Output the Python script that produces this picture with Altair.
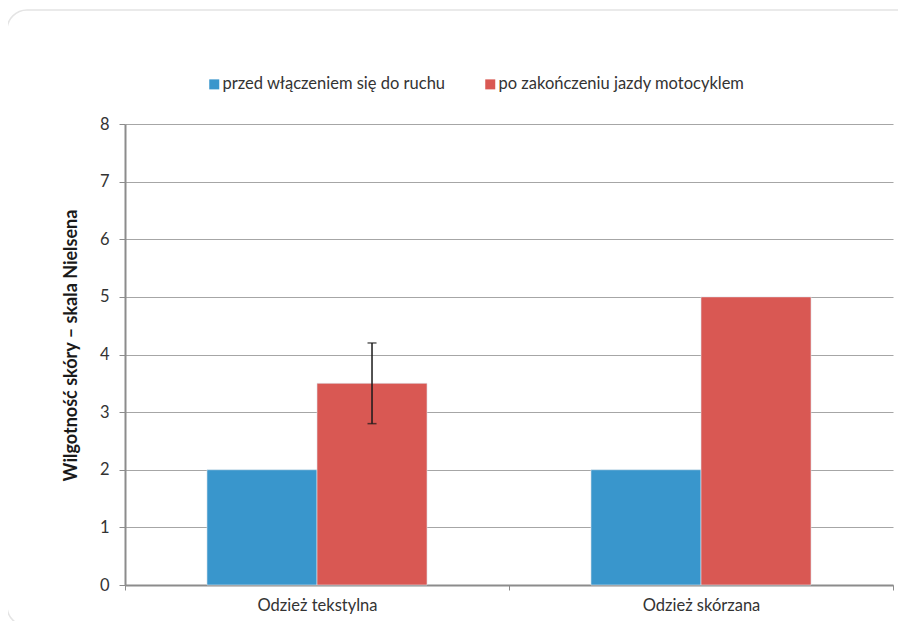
import altair as alt
import pandas as pd

categories = ["Odzież tekstylna", "Odzież skórzana"]
series = ["przed włączeniem się do ruchu", "po zakończeniu jazdy motocyklem"]
before_values = [2, 2]
after_values = [3.5, 5]
err_low = [2.8, None]
err_high = [4.2, None]
colors = ["#3996cc", "#d95853"]
y_ticks = [0, 1, 2, 3, 4, 5, 6, 7, 8]

FONT = "Lato"
FS = 16.5

rows = []
for i, c in enumerate(categories):
    rows.append({"cat": c, "series": series[0], "value": before_values[i], "lo": None, "hi": None})
    rows.append({"cat": c, "series": series[1], "value": after_values[i], "lo": err_low[i], "hi": err_high[i]})
df = pd.DataFrame(rows)
err_df = df.dropna(subset=["lo"])

x_enc = alt.X("cat:N", sort=categories,
              scale=alt.Scale(paddingInner=0, paddingOuter=0),
              axis=alt.Axis(title=None, tickBand="extent", labelAngle=0,
                            labelFont=FONT, labelFontSize=FS, labelColor="#333333",
                            labelPadding=7, tickSize=5, tickColor="#8c8c8c",
                            domainColor="#8c8c8c", domainWidth=2, grid=False))
xoff = alt.XOffset("series:N", sort=series,
                   scale=alt.Scale(domain=series, paddingInner=0, paddingOuter=0.745))
y_scale = alt.Scale(domain=[0, 8], nice=False)

card = alt.Chart(pd.DataFrame({"k": [0]})).mark_rect(
    fill="white", fillOpacity=0, stroke="#e4e4e4", strokeWidth=1.5, cornerRadius=20
).encode(x=alt.value(-118), x2=alt.value(800), y=alt.value(-114), y2=alt.value(502))

bars = alt.Chart(df).mark_bar(stroke="#dfe6ec", strokeWidth=0.6).encode(
    x=x_enc,
    xOffset=xoff,
    y=alt.Y("value:Q", scale=y_scale,
            axis=alt.Axis(values=y_ticks, format="d",
                          title="Wilgotność skóry – skala Nielsena",
                          titleFont=FONT, titleFontSize=18, titleFontWeight="bold",
                          titleColor="#1a1a1a", titleX=-63, titleY=221,
                          titleAngle=-90, titleAlign="center", titleBaseline="top",
                          labelFont=FONT, labelFontSize=FS, labelColor="#333333",
                          labelPadding=10, tickSize=6, tickColor="#8c8c8c",
                          domainColor="#8c8c8c", domainWidth=2,
                          gridColor="#a6a6a6", gridWidth=1.2)),
    color=alt.Color("series:N", sort=series,
                    scale=alt.Scale(domain=series, range=colors),
                    legend=alt.Legend(title=None, orient="none", direction="horizontal",
                                      legendX=81, legendY=-48,
                                      symbolType="square", symbolSize=100,
                                      symbolStrokeWidth=0, labelOffset=0,
                                      columnPadding=36, labelLimit=0,
                                      labelFont=FONT, labelFontSize=FS,
                                      labelColor="#333333")),
)

err_rule = alt.Chart(err_df).mark_rule(color="#1a1a1a", strokeWidth=1.5).encode(
    x=alt.X("cat:N", sort=categories), xOffset=alt.XOffset("series:N", sort=series),
    y=alt.Y("lo:Q"), y2="hi:Q",
)
err_cap_lo = alt.Chart(err_df).mark_tick(color="#1a1a1a", thickness=1.5, size=9).encode(
    x=alt.X("cat:N", sort=categories), xOffset=alt.XOffset("series:N", sort=series),
    y=alt.Y("lo:Q"),
)
err_cap_hi = alt.Chart(err_df).mark_tick(color="#1a1a1a", thickness=1.5, size=9).encode(
    x=alt.X("cat:N", sort=categories), xOffset=alt.XOffset("series:N", sort=series),
    y=alt.Y("hi:Q"),
)

chart = alt.layer(card, bars, err_rule, err_cap_lo, err_cap_hi).properties(
    width=768, height=461,
    autosize=alt.AutoSizeParams(type="none"),
    padding={"left": 117, "top": 116, "right": 5, "bottom": 36},
    background="white",
).configure_view(stroke=None)

chart.save("out.html", embed_options={"renderer": "svg", "actions": False})
